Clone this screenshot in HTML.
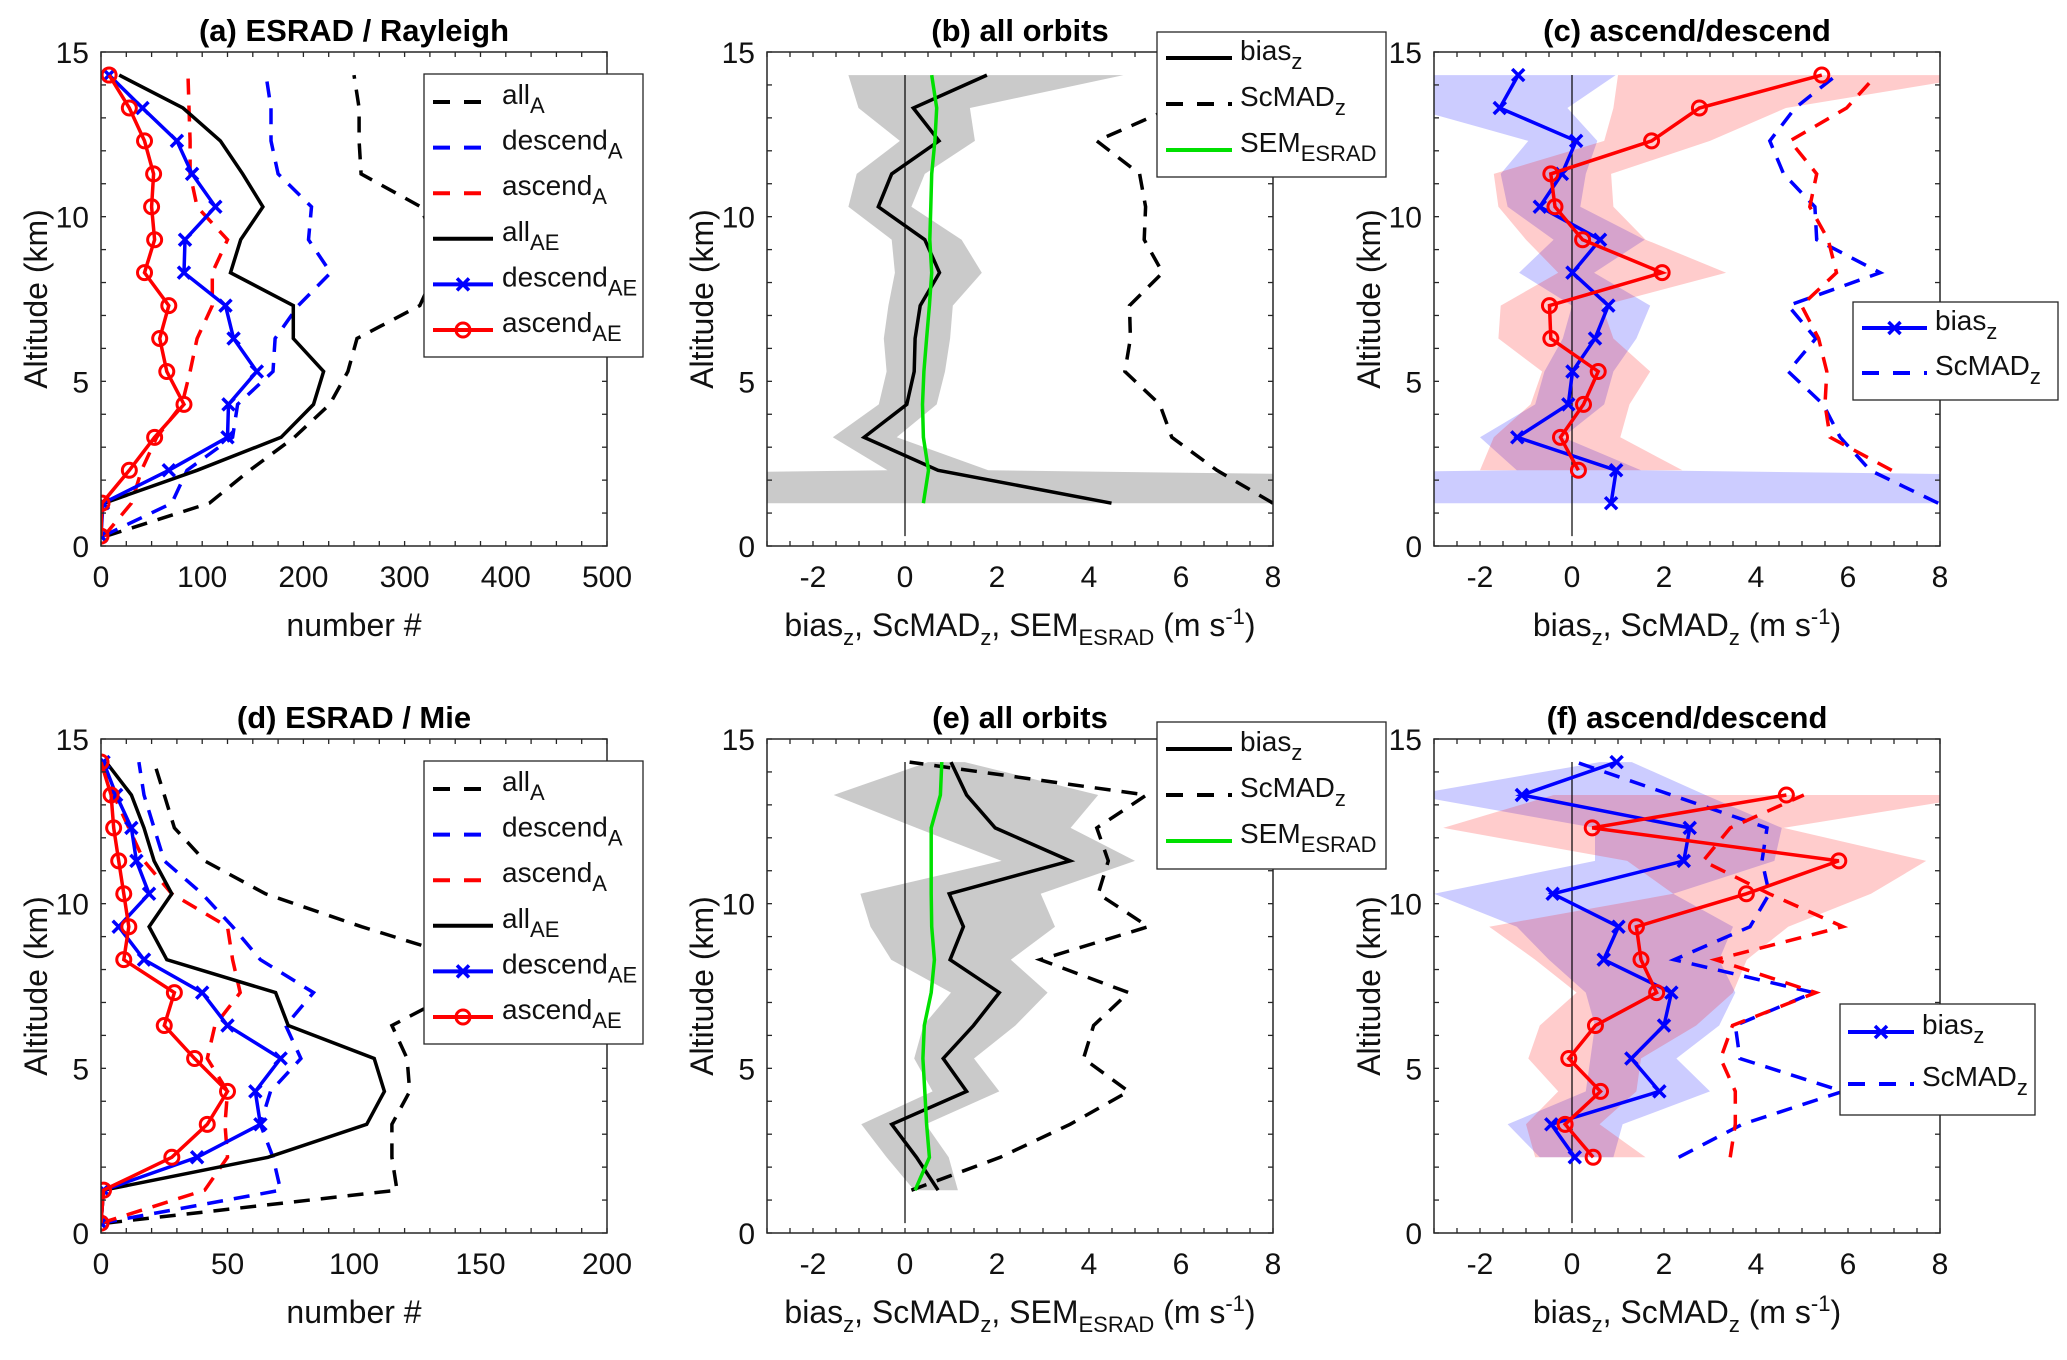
<!DOCTYPE html>
<html><head><meta charset="utf-8"><style>
html,body{margin:0;padding:0;background:#fff;}
svg{display:block;font-family:"Liberation Sans",Arial,sans-serif;}
</style></head><body>
<svg id="fig" width="2067" height="1360" viewBox="0 0 2067 1360" xmlns="http://www.w3.org/2000/svg"></svg>
<script>
// ---------- data ----------
const altFull = [0.3,1.3,2.3,3.3,4.3,5.3,6.3,7.3,8.3,9.3,10.3,11.3,12.3,13.3,14.3];
const alt13 = [1.3,2.3,3.3,4.3,5.3,6.3,7.3,8.3,9.3,10.3,11.3,12.3,13.3,14.3];
const alt23 = [2.3,3.3,4.3,5.3,6.3,7.3,8.3,9.3,10.3,11.3,12.3,13.3,14.3];
const alt23to133 = [2.3,3.3,4.3,5.3,6.3,7.3,8.3,9.3,10.3,11.3,12.3,13.3];

// panel a
const aAllA  = [5,107,147,191,226,244,253,315,330,328,316,257,255,255,250];
const aDescA = [2,70,85,130,135,170,172,195,227,205,208,175,168,168,163];
const aAscA  = [3,30,40,55,80,88,95,110,110,125,95,88,88,87,86];
const aAllAE = [3,95,178,210,220,190,190,128,138,160,140,118,81,18];
const aDescAE= [0,2,67,125,126,154,131,123,82,83,113,90,75,41,8];
const aAscAE = [0,1,28,53,82,65,58,67,43,53,50,52,43,28,8];
// panel d
const dAllA  = [2,117,115,115,122,121,115,140,145,103,65,41,29,25,21];
const dDescA = [0,71,68,63,67,79,73,84,63,52,40,25,21,17,15];
const dAscA  = [0,41,50,49,50,42,45,55,52,50,28,17,11,5,0];
const dAllAE = [0,1,66,105,112,108,74,69,26,19,28,21,17,12,2];
const dDescAE= [0,1,38,63,61,71,50,40,17,7,19,14,12,6,1];
const dAscAE = [0,1,28,42,50,37,25,29,9,11,9,7,5,4,0];
// panel b
const bBias  = [4.49,0.72,-0.89,0.04,0.2,0.22,0.33,0.75,0.43,-0.58,-0.29,0.74,0.18,1.78];
const bLow   = [-60,-0.38,-1.57,-0.57,-0.40,-0.46,-0.36,-0.22,-0.29,-1.23,-1.05,-0.11,-1.01,-1.23];
const bHigh  = [60,1.81,-0.18,0.69,0.87,0.98,1.04,1.67,1.23,0.14,0.43,1.52,1.41,4.75];
const bSem   = [0.4,0.51,0.4,0.38,0.41,0.47,0.53,0.58,0.54,0.56,0.58,0.65,0.69,0.58];
const bScmad = [8.0,6.78,5.8,5.54,4.78,4.9,4.88,5.6,5.2,5.23,5.1,4.17,5.8,5.5];
// panel c
const cDescBias = [0.85,0.96,-1.19,-0.08,0.01,0.5,0.79,0.01,0.61,-0.7,-0.22,0.09,-1.57,-1.17];
const cAscBias  = [0.14,-0.25,0.25,0.57,-0.46,-0.49,1.96,0.23,-0.37,-0.46,1.73,2.77,5.43];
const cDescScmad= [7.96,6.48,5.83,5.46,4.7,5.3,4.7,6.7,5.32,5.28,4.6,4.3,4.85,5.75];
const cAscScmad = [6.95,5.61,5.5,5.54,5.36,4.99,5.75,5.57,5.17,5.32,4.74,5.97,6.62];
const cDescLow  = [-60,-1.2,-2.0,-0.8,-0.6,-0.2,0.0,-1.15,-0.4,-1.4,-1.55,-0.95,-3.5,-3.5];
const cDescHigh = [60,1.5,-0.2,0.7,0.9,1.4,1.7,0.48,1.58,0.18,0.3,0.55,-0.1,0.95];
const cAscLow   = [-2.0,-1.7,-0.9,-0.65,-1.6,-1.55,-0.3,-1.0,-1.6,-1.7,0.7,0.9,1.0];
const cAscHigh  = [2.4,1.05,1.25,1.7,0.9,0.65,3.35,1.6,0.9,0.85,3.0,4.65,9];
// panel e
const eBias  = [0.72,0.25,-0.29,1.34,0.83,1.49,2.05,0.98,1.27,0.96,3.59,1.96,1.34,1.0];
const eLow   = [0.2,-0.4,-0.95,0.6,0.2,0.4,1.0,-0.3,-0.75,-0.97,2.1,0.25,-1.55,0.5];
const eHigh  = [1.15,0.95,0.45,2.05,1.5,2.4,3.1,2.3,3.26,2.95,5.0,3.6,4.2,1.3];
const eSem   = [0.22,0.53,0.47,0.43,0.39,0.42,0.57,0.64,0.58,0.57,0.57,0.57,0.77,0.8];
const eScmad = [0.14,2.07,3.59,4.86,3.88,4.1,4.86,2.94,5.29,4.2,4.42,4.17,5.25,0.1];
// panel f
const fDescBias = [0.06,-0.45,1.9,1.29,2.0,2.16,0.69,1.01,-0.42,2.43,2.56,-1.09,0.97];
const fAscBias  = [0.46,-0.15,0.62,-0.07,0.51,1.84,1.5,1.4,3.79,5.8,0.44,4.66];
const fDescScmad= [2.32,3.7,5.89,3.65,3.55,5.25,2.22,3.87,4.29,4.13,4.24,2.16,0.09];
const fAscScmad = [3.44,3.55,3.55,3.23,3.49,5.3,3.12,5.89,4.29,2.85,3.44,5.04];
const fDescLow  = [-0.7,-1.4,0.3,0.4,0.5,0.3,-0.5,-1.2,-3.0,0.5,0.5,-3.5,0.6];
const fDescHigh = [0.9,1.1,3.0,2.27,3.2,3.55,3.2,3.5,2.2,4.4,4.56,2.9,1.3];
const fAscLow   = [-0.8,-1.0,-0.3,-0.95,-0.7,0.1,-0.8,-1.8,2.2,1.2,-2.8,-0.4];
const fAscHigh  = [1.6,0.6,1.4,1.5,2.7,3.5,3.8,4.7,6.5,7.7,4.6,9];

const countTicks = [0,100,200,300,400,500];
const countTicksMie = [0,50,100,150,200];
const speedTicks = [-2,0,2,4,6,8];
const altTicks = [0,5,10,15];

// ---------- helpers ----------
const NS = "http://www.w3.org/2000/svg";
const svg = document.getElementById('fig');
function mk(tag, attrs, parent){
  const e = document.createElementNS(NS, tag);
  for (const k in attrs) e.setAttribute(k, attrs[k]);
  (parent||svg).appendChild(e);
  return e;
}
const W = 506, H = 494;
let clipId = 0;
function panel(ox, oy, xmin, xmax, name){
  const g = mk('g', {});
  
  
  const cid = 'clip' + (clipId++);
  const cp = mk('clipPath', {id: cid}, g);
  mk('rect', {x: ox, y: oy, width: W, height: H}, cp);
  const plot = mk('g', {'clip-path': 'url(#' + cid + ')'}, g);
  
  
  return {g, plot, ox, oy, xmin, xmax,
    sx: v => ox + (v - xmin) / (xmax - xmin) * W,
    sy: v => oy + H - v / 15 * H};
}
function axes(p, xticks, xminor){
  const g = p.g;
  const t = mk('g', {stroke: '#262626', 'stroke-width': 1.3, fill: 'none'}, g);
  
  
  for (let v = p.xmin; v <= p.xmax + 1e-9; v += xminor){
    const x = p.sx(v);
    mk('line', {x1: x, x2: x, y1: p.oy + H, y2: p.oy + H - 5}, t);
    mk('line', {x1: x, x2: x, y1: p.oy, y2: p.oy + 5}, t);
  }
  for (let v = 0; v <= 15; v++){
    const y = p.sy(v);
    mk('line', {x1: p.ox, x2: p.ox + 5, y1: y, y2: y}, t);
    mk('line', {x1: p.ox + W, x2: p.ox + W - 5, y1: y, y2: y}, t);
  }
  const box = mk('rect', {x: p.ox, y: p.oy, width: W, height: H, fill: 'none', stroke: '#262626', 'stroke-width': 1.5}, g);
  
  
  xticks.forEach(v => {
    const tx = mk('text', {x: p.sx(v), y: p.oy + H + 41, 'font-size': 30, 'text-anchor': 'middle', fill: '#111'}, g);
    tx.textContent = v;
    
    
  });
  altTicks.forEach(v => {
    const ty = mk('text', {x: p.ox - 12, y: p.sy(v) + 11, 'font-size': 30, 'text-anchor': 'end', fill: '#111'}, g);
    ty.textContent = v;
    
    
  });
  const yl = mk('text', {x: 0, y: 0, 'font-size': 32, 'text-anchor': 'middle', fill: '#111',
    transform: 'translate(' + (p.ox - 54) + ',' + (p.oy + H/2) + ') rotate(-90)'}, g);
  yl.textContent = 'Altitude (km)';
  
  
}
function title(p, txt){
  const t = mk('text', {x: p.ox + W/2, y: p.oy - 11, 'font-size': 31, 'font-weight': 'bold', 'text-anchor': 'middle', fill: '#000'}, p.g);
  t.textContent = txt;
  
  
}
function xlabelHTML(p, html){
  const t = mk('text', {x: p.ox + W/2, y: p.oy + H + 90, 'font-size': 32, 'text-anchor': 'middle', fill: '#111'}, p.g);
  t.innerHTML = html;
  
  
}
function line(p, xs, ys, color, opts){
  opts = opts || {};
  const pts = xs.map((v, i) => p.sx(v).toFixed(1) + ',' + p.sy(ys[i]).toFixed(1)).join(' ');
  const pl = mk('polyline', {points: pts, fill: 'none', stroke: color, 'stroke-width': opts.w || 3.5,
    'stroke-dasharray': opts.dash ? '16,11' : 'none', 'stroke-linejoin': 'miter'}, p.plot);
  
  
  if (opts.marker){
    xs.forEach((v, i) => {
      const x = p.sx(v), y = p.sy(ys[i]);
      if (opts.marker === 'o'){
        const c = mk('circle', {cx: x, cy: y, r: 7, fill: 'none', stroke: color, 'stroke-width': 3}, p.plot);
        
        
      } else {
        const m = mk('path', {d: 'M' + (x-6) + ',' + (y-6) + 'L' + (x+6) + ',' + (y+6) + 'M' + (x+6) + ',' + (y-6) + 'L' + (x-6) + ',' + (y+6),
          stroke: color, 'stroke-width': 3.5, fill: 'none'}, p.plot);
        
        
      }
    });
  }
}
function band(p, lo, hi, ys, fill, name){
  const pts = lo.map((v, i) => p.sx(v).toFixed(1) + ',' + p.sy(ys[i]).toFixed(1));
  for (let i = hi.length - 1; i >= 0; i--) pts.push(p.sx(hi[i]).toFixed(1) + ',' + p.sy(ys[i]).toFixed(1));
  const pg = mk('polygon', {points: pts.join(' '), fill: fill, stroke: 'none'}, p.plot);
  
  
}
function zeroLine(p){
  const l = mk('line', {x1: p.sx(0), x2: p.sx(0), y1: p.sy(0.3), y2: p.sy(14.3), stroke: '#000', 'stroke-width': 1.2}, p.plot);
  
  
}
function legend(x, y, w, h, entries, startY, gap, lx1, lx2, tx, name){
  const g = mk('g', {});
  
  
  mk('rect', {x: x, y: y, width: w, height: h, fill: '#fff', stroke: '#262626', 'stroke-width': 1.3}, g);
  entries.forEach((e, i) => {
    const yy = startY + i * gap;
    const eg = mk('g', {}, g);
    
    
    mk('line', {x1: lx1, x2: lx2, y1: yy, y2: yy, stroke: e.c, 'stroke-width': 4, 'stroke-dasharray': e.dash ? '17,14' : 'none'}, eg);
    const mx = (lx1 + lx2) / 2;
    if (e.m === 'o') mk('circle', {cx: mx, cy: yy, r: 7, fill: 'none', stroke: e.c, 'stroke-width': 3}, eg);
    if (e.m === 'x') mk('path', {d: 'M' + (mx-6) + ',' + (yy-6) + 'L' + (mx+6) + ',' + (yy+6) + 'M' + (mx+6) + ',' + (yy-6) + 'L' + (mx-6) + ',' + (yy+6), stroke: e.c, 'stroke-width': 3.5}, eg);
    const t = mk('text', {x: tx, y: yy + 2, 'font-size': 28, fill: '#111'}, eg);
    t.innerHTML = e.t;
  });
}
const S = s => '<tspan dy="9" font-size="22">' + s + '</tspan>';

// ---------- panel a ----------
const pa = panel(101, 52, 0, 500, 'panel-a');
line(pa, aAllA, altFull, '#000', {dash: true, name: 'allA-line'});
line(pa, aDescA, altFull, '#0000ff', {dash: true, name: 'descendA-line'});
line(pa, aAscA, altFull, '#ff0000', {dash: true, name: 'ascendA-line'});
line(pa, aAllAE, alt13, '#000', {name: 'allAE-line'});
line(pa, aDescAE, altFull, '#0000ff', {marker: 'x', name: 'descendAE-line'});
line(pa, aAscAE, altFull, '#ff0000', {marker: 'o', name: 'ascendAE-line'});
axes(pa, countTicks, 25);
title(pa, '(a) ESRAD / Rayleigh');
xlabelHTML(pa, 'number #');
const legAEntries = [
  {c:'#000', dash:true, t:'all' + S('A')},
  {c:'#0000ff', dash:true, t:'descend' + S('A')},
  {c:'#ff0000', dash:true, t:'ascend' + S('A')},
  {c:'#000', t:'all' + S('AE')},
  {c:'#0000ff', m:'x', t:'descend' + S('AE')},
  {c:'#ff0000', m:'o', t:'ascend' + S('AE')}];
legend(424, 74, 219, 283, legAEntries, 102, 45.6, 433, 493, 502, 'legend-a');

// ---------- panel d ----------
const pd = panel(101, 739, 0, 200, 'panel-d');
line(pd, dAllA, altFull, '#000', {dash: true, name: 'allA-line'});
line(pd, dDescA, altFull, '#0000ff', {dash: true, name: 'descendA-line'});
line(pd, dAscA, altFull, '#ff0000', {dash: true, name: 'ascendA-line'});
line(pd, dAllAE, altFull, '#000', {name: 'allAE-line'});
line(pd, dDescAE, altFull, '#0000ff', {marker: 'x', name: 'descendAE-line'});
line(pd, dAscAE, altFull, '#ff0000', {marker: 'o', name: 'ascendAE-line'});
axes(pd, countTicksMie, 10);
title(pd, '(d) ESRAD / Mie');
xlabelHTML(pd, 'number #');
legend(424, 761, 219, 283, legAEntries, 789, 45.6, 433, 493, 502, 'legend-d');

// ---------- panel b ----------
const pb = panel(767, 52, -3, 8, 'panel-b');
band(pb, bLow, bHigh, alt13, 'rgba(150,150,150,0.5)', 'bias-band');
zeroLine(pb);
line(pb, bScmad, alt13, '#000', {dash: true, name: 'scmad-line'});
line(pb, bBias, alt13, '#000', {name: 'bias-line'});
line(pb, bSem, alt13, '#00e000', {name: 'sem-line'});
axes(pb, speedTicks, 0.5);
title(pb, '(b) all orbits');
const xlb = 'bias' + S('z') + '<tspan dy="-9">, ScMAD</tspan>' + S('z') + '<tspan dy="-9">, SEM</tspan>' + S('ESRAD') + '<tspan dy="-9"> (m s</tspan><tspan dy="-12" font-size="22">-1</tspan><tspan dy="12">)</tspan>';
xlabelHTML(pb, xlb);
const legBEntries = [
  {c:'#000', t:'bias' + S('z')},
  {c:'#000', dash:true, t:'ScMAD' + S('z')},
  {c:'#00e000', t:'SEM' + S('ESRAD')}];
legend(1157, 32, 229, 145, legBEntries, 58, 46, 1166, 1232, 1240, 'legend-b');

// ---------- panel e ----------
const pe = panel(767, 739, -3, 8, 'panel-e');
band(pe, eLow, eHigh, alt13, 'rgba(150,150,150,0.5)', 'bias-band');
zeroLine(pe);
line(pe, eScmad, alt13, '#000', {dash: true, name: 'scmad-line'});
line(pe, eBias, alt13, '#000', {name: 'bias-line'});
line(pe, eSem, alt13, '#00e000', {name: 'sem-line'});
axes(pe, speedTicks, 0.5);
title(pe, '(e) all orbits');
xlabelHTML(pe, xlb);
legend(1157, 722, 229, 147, legBEntries, 749, 46, 1166, 1232, 1240, 'legend-e');

// ---------- panel c ----------
const pc = panel(1434, 52, -3, 8, 'panel-c');
band(pc, cDescLow, cDescHigh, alt13, 'rgba(0,0,255,0.2)', 'descend-band');
band(pc, cAscLow, cAscHigh, alt23, 'rgba(255,0,0,0.2)', 'ascend-band');
zeroLine(pc);
line(pc, cDescScmad, alt13, '#0000ff', {dash: true, name: 'descend-scmad-line'});
line(pc, cAscScmad, alt23, '#ff0000', {dash: true, name: 'ascend-scmad-line'});
line(pc, cDescBias, alt13, '#0000ff', {marker: 'x', name: 'descend-bias-line'});
line(pc, cAscBias, alt23, '#ff0000', {marker: 'o', name: 'ascend-bias-line'});
axes(pc, speedTicks, 0.5);
title(pc, '(c) ascend/descend');
const xlc = 'bias' + S('z') + '<tspan dy="-9">, ScMAD</tspan>' + S('z') + '<tspan dy="-9"> (m s</tspan><tspan dy="-12" font-size="22">-1</tspan><tspan dy="12">)</tspan>';
xlabelHTML(pc, xlc);
const legCEntries = [
  {c:'#0000ff', m:'x', t:'bias' + S('z')},
  {c:'#0000ff', dash:true, t:'ScMAD' + S('z')}];
legend(1853, 302, 205, 98, legCEntries, 328, 45, 1862, 1927, 1935, 'legend-c');

// ---------- panel f ----------
const pf = panel(1434, 739, -3, 8, 'panel-f');
band(pf, fDescLow, fDescHigh, alt23, 'rgba(0,0,255,0.2)', 'descend-band');
band(pf, fAscLow, fAscHigh, alt23to133, 'rgba(255,0,0,0.2)', 'ascend-band');
zeroLine(pf);
line(pf, fDescScmad, alt23, '#0000ff', {dash: true, name: 'descend-scmad-line'});
line(pf, fAscScmad, alt23to133, '#ff0000', {dash: true, name: 'ascend-scmad-line'});
line(pf, fDescBias, alt23, '#0000ff', {marker: 'x', name: 'descend-bias-line'});
line(pf, fAscBias, alt23to133, '#ff0000', {marker: 'o', name: 'ascend-bias-line'});
axes(pf, speedTicks, 0.5);
title(pf, '(f) ascend/descend');
xlabelHTML(pf, xlc);
legend(1840, 1004, 195, 111, legCEntries, 1032, 52, 1848, 1914, 1922, 'legend-f');
</script>
</body></html>
